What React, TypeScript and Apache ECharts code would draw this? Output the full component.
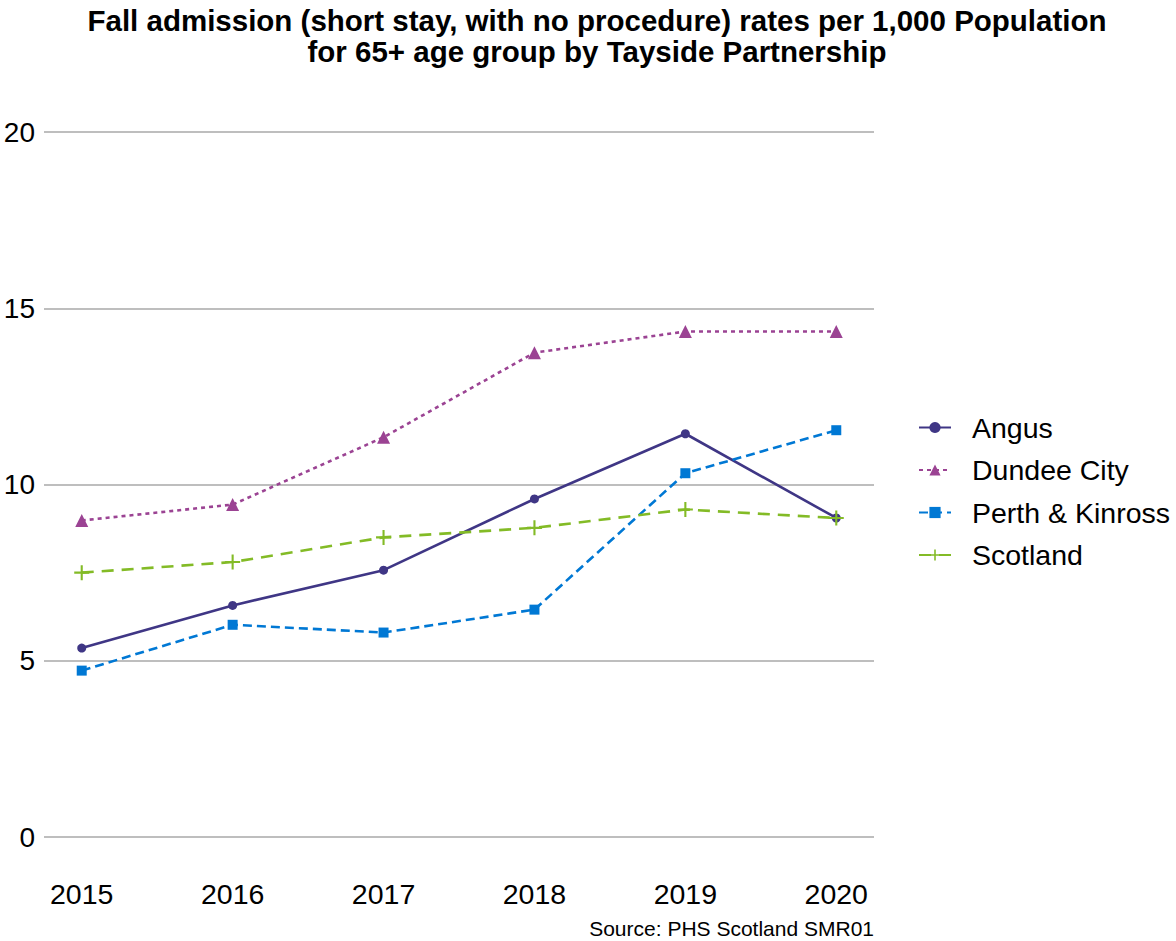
import React, { useEffect, useRef } from "react";
import * as echarts from "echarts";

const years = [2015, 2016, 2017, 2018, 2019, 2020];
const angus = [5.36, 6.57, 7.57, 9.59, 11.44, 9.05];
const dundee = [8.98, 9.43, 11.34, 13.74, 14.34, 14.34];
const perth = [4.72, 6.02, 5.8, 6.45, 10.32, 11.54];
const scotland = [7.5, 7.8, 8.5, 8.77, 9.29, 9.05];
const yTicks = [0, 5, 10, 15, 20];

const FONT = "Liberation Sans, Arial, Helvetica, sans-serif";
const PLUS = "path://M4.3,0H5.7V4.3H10V5.7H5.7V10H4.3V5.7H0V4.3H4.3Z";

export default function App() {
  const ref = useRef<HTMLDivElement>(null);
  useEffect(() => {
    if (!ref.current) return;
    const chart = echarts.init(ref.current, undefined, { renderer: "svg" });
    const pair = (vals: number[]) => years.map((y, i) => [y, vals[i]]);
    const mk = (
      name: string,
      vals: number[],
      color: string,
      type: any,
      symbol: string,
      size: number
    ) => ({
      name,
      type: "line",
      data: pair(vals),
      symbol,
      symbolSize: size,
      showSymbol: true,
      lineStyle: { color, width: 2.6, type },
      itemStyle: { color, borderWidth: 0 },
    });
    chart.setOption({
      animation: false,
      backgroundColor: "#ffffff",
      title: {
        text: "Fall admission (short stay, with no procedure) rates per 1,000 Population\nfor 65+ age group by Tayside Partnership",
        left: 592,
        textAlign: "center",
        top: 0,
        textStyle: {
          fontFamily: FONT,
          fontSize: 29.5,
          fontWeight: "bold",
          color: "#000",
          lineHeight: 31,
        },
      },
      grid: { left: 44, top: 132, width: 830, height: 705, containLabel: false },
      xAxis: {
        type: "value",
        min: 2014.75,
        max: 2020.25,
        interval: 0.25,
        axisLine: { show: false },
        axisTick: { show: false },
        splitLine: { show: false },
        axisLabel: {
          margin: 42,
          fontFamily: FONT,
          fontSize: 28.5,
          color: "#000",
          showMinLabel: false,
          showMaxLabel: false,
          formatter: (v: number) => (Number.isInteger(v) && years.includes(v) ? String(v) : ""),
        },
      },
      yAxis: {
        type: "value",
        min: yTicks[0],
        max: yTicks[yTicks.length - 1],
        interval: 5,
        axisLine: { show: false },
        axisTick: { show: false },
        splitLine: { show: true, lineStyle: { color: "#bebebe", width: 2 } },
        axisLabel: {
          margin: 9,
          fontFamily: FONT,
          fontSize: 28,
          color: "#000",
        },
      },
      legend: {
        orient: "vertical",
        left: 913,
        top: 408,
        itemWidth: 32,
        itemHeight: 14,
        itemGap: 13.5,
        textStyle: { fontFamily: FONT, fontSize: 28.5, color: "#000", padding: [0, 0, 0, 16] },
        data: ["Angus", "Dundee City", "Perth & Kinross", "Scotland"],
      },
      graphic: [
        {
          type: "text",
          right: 1176 - 874,
          top: 918,
          style: {
            text: "Source: PHS Scotland SMR01",
            font: `21px ${FONT}`,
            fill: "#000",
            textAlign: "right",
          },
        },
      ],
      series: [
        mk("Angus", angus, "#3f3685", "solid", "circle", 9),
        mk("Dundee City", dundee, "#9b4393", [4, 4], "triangle", 13),
        mk("Perth & Kinross", perth, "#0078d4", [9, 5], "rect", 10),
        mk("Scotland", scotland, "#83bb26", [12, 8], PLUS, 15),
      ],
    });
    return () => chart.dispose();
  }, []);
  return (
    <div
      ref={ref}
      style={{ position: "absolute", left: 0, top: 0, width: 1176, height: 941 }}
    />
  );
}
